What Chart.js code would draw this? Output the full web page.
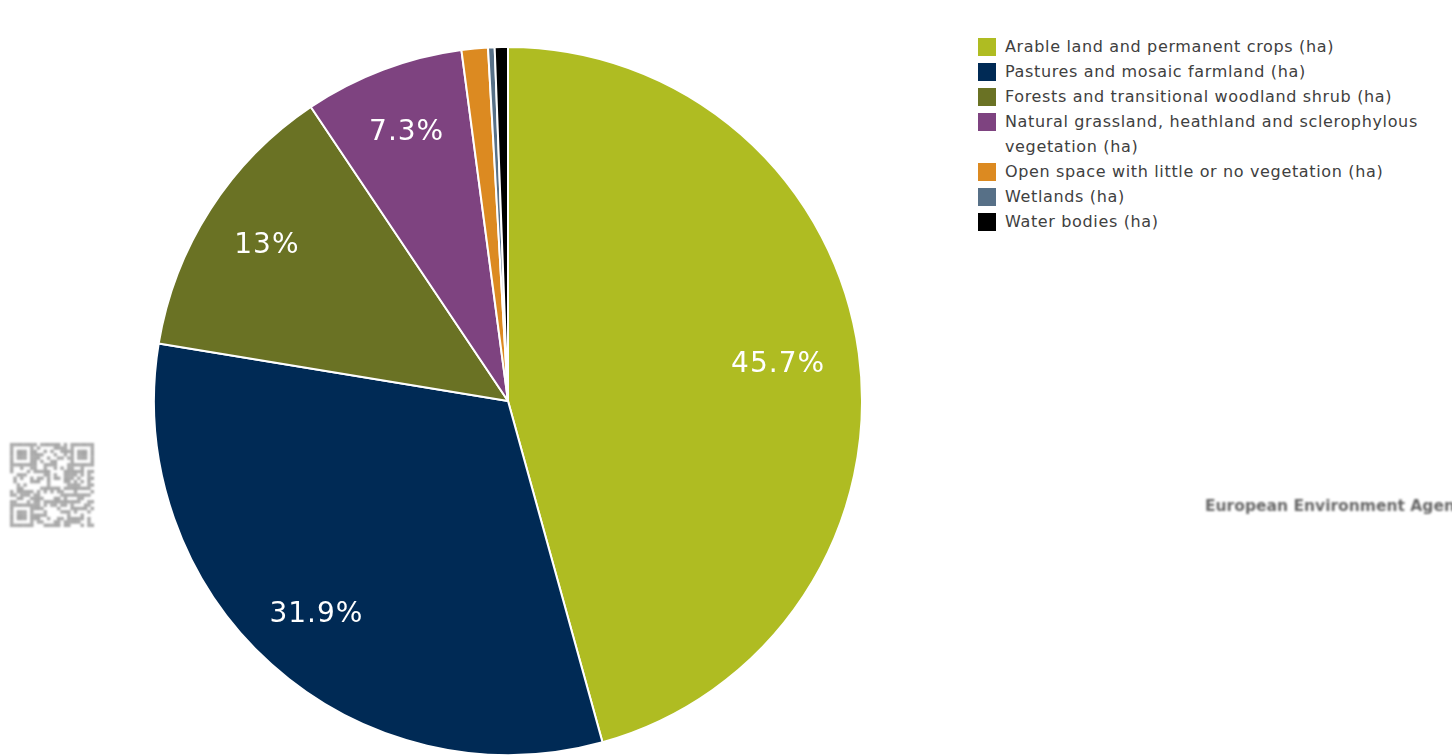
<!DOCTYPE html>
<html lang="en">
  <head>
    <meta charset="UTF-8" />
    <title>Land cover</title>
    <style>
      html,
      body {
        margin: 0;
        padding: 0;
        width: 1452px;
        height: 756px;
        overflow: hidden;
        background: #fff;
        font-family: "DejaVu Sans", Verdana, sans-serif;
      }
      .pie {
        position: absolute;
        left: 153px;
        top: 46px;
        width: 710px;
        height: 710px;
      }
      ul,
      li {
        margin: 0;
        padding: 0;
        list-style: none;
      }
      .legend {
        position: absolute;
        left: 978px;
        top: 35px;
        width: 474px;
        font-size: 16px;
        letter-spacing: 0.65px;
        line-height: 24.5px;
        color: #404040;
      }
      .legend li {
        position: relative;
        padding-left: 27px;
        margin-bottom: 0.5px;
      }
      .legend li::before {
        content: "";
        position: absolute;
        left: 0;
        top: 3px;
        width: 18px;
        height: 18px;
        background: var(--swatch);
      }
      .qr {
        position: absolute;
        left: 10px;
        top: 443px;
        filter: blur(1px);
        opacity: 0.6;
      }
      .agency {
        position: absolute;
        left: 1205px;
        top: 497px;
        font: bold 15.5px "DejaVu Sans", sans-serif;
        color: #666;
        white-space: nowrap;
        filter: blur(0.9px);
      }
    </style>
  </head>
  <body>
    <ul class="legend"></ul>
    <canvas class="qr" width="84" height="84"></canvas>
    <div class="agency">European Environment Agency</div>
    <div class="pie"><canvas id="chart"></canvas></div>
    <script src="https://cdn.jsdelivr.net/npm/chart.js@4.4.1/dist/chart.umd.min.js"></script>
    <script>
      const categories = [
        "Arable land and permanent crops (ha)",
        "Pastures and mosaic farmland (ha)",
        "Forests and transitional woodland shrub (ha)",
        "Natural grassland, heathland and sclerophylous vegetation (ha)",
        "Open space with little or no vegetation (ha)",
        "Wetlands (ha)",
        "Water bodies (ha)",
      ];
      const shares = [45.7, 31.9, 13, 7.3, 1.2, 0.3, 0.6];
      const colors = [
        "#afbc22",
        "#002a55",
        "#6a7224",
        "#7e4380",
        "#dc8a21",
        "#577087",
        "#000000",
      ];

      const legend = document.querySelector(".legend");
      categories.forEach((name, i) => {
        const item = document.createElement("li");
        item.textContent = name;
        item.style.setProperty("--swatch", colors[i]);
        legend.appendChild(item);
      });

      // Small grey code block in the lower left corner.
      function drawCode(canvas) {
        const ctx = canvas.getContext("2d");
        const n = 25;
        const s = 84 / n;
        ctx.fillStyle = "#666";
        let seed = 7;
        const next = () => {
          seed = (seed * 1103515245 + 12345) % 2147483648;
          return seed / 2147483648;
        };
        for (let y = 0; y < n; y++) {
          for (let x = 0; x < n; x++) {
            let inFinder = false;
            let on = false;
            for (const [fx, fy] of [[0, 0], [n - 7, 0], [0, n - 7]]) {
              const dx = x - fx;
              const dy = y - fy;
              if (dx >= 0 && dx < 7 && dy >= 0 && dy < 7) {
                inFinder = true;
                on = Math.min(dx, dy, 6 - dx, 6 - dy) !== 1;
              }
            }
            if (!inFinder) on = next() > 0.5;
            if (on) ctx.fillRect(x * s, y * s, s, s);
          }
        }
      }
      drawCode(document.querySelector(".qr"));

      // Percent labels placed inside the larger slices.
      const sliceLabels = {
        id: "sliceLabels",
        afterDatasetsDraw(chart) {
          const ctx = chart.ctx;
          const meta = chart.getDatasetMeta(0);
          ctx.save();
          ctx.font = "28px 'DejaVu Sans', sans-serif";
          ctx.letterSpacing = "1px";
          ctx.fillStyle = "#fff";
          ctx.textAlign = "center";
          ctx.textBaseline = "middle";
          meta.data.forEach((arc, i) => {
            const value = shares[i];
            if (value < 5) return;
            const mid = (arc.startAngle + arc.endAngle) / 2;
            // the widest slice keeps its label a bit nearer the centre
            const r = arc.outerRadius * (value > 40 ? 0.77 : 0.81);
            ctx.fillText(
              value + "%",
              arc.x + Math.cos(mid) * r,
              arc.y + Math.sin(mid) * r
            );
          });
          ctx.restore();
        },
      };

      new Chart(document.getElementById("chart"), {
        type: "pie",
        data: {
          labels: categories,
          datasets: [
            {
              data: shares,
              backgroundColor: colors,
              borderColor: "#fff",
              borderWidth: 2,
            },
          ],
        },
        options: {
          responsive: true,
          maintainAspectRatio: false,
          animation: false,
          layout: { padding: 0 },
          plugins: {
            legend: { display: false },
            tooltip: { enabled: false },
          },
        },
        plugins: [sliceLabels],
      });
    </script>
  </body>
</html>
